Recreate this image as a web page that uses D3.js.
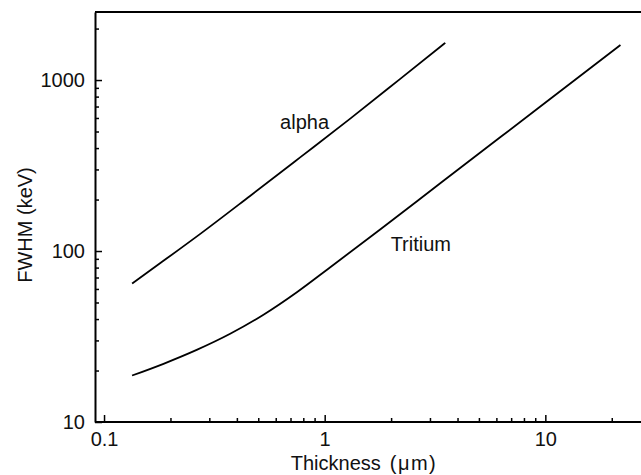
<!DOCTYPE html>
<html>
<head>
<meta charset="utf-8">
<script src="https://cdn.jsdelivr.net/npm/d3@7"></script>
<style>
    body { margin: 0; background: #fff; }
    svg { display: block; }
    text { font-family: "Liberation Sans", Arial, sans-serif; fill: #111; }
</style>
</head>
<body>
<div id="chart"></div>
<script>
// values (thickness in um, FWHM in keV)
var alphaThickness = [0.134, 0.18, 0.273, 0.459, 0.774, 1.31, 2.2, 3.52];
var alphaFwhm = [64.5, 85, 126, 210, 353, 597, 1016, 1650];

var tritiumThickness = [0.134, 0.186, 0.263, 0.373, 0.528, 0.748, 1.06, 1.79, 3.34, 9.49, 21.9];
var tritiumFwhm = [18.7, 21.9, 26.4, 32.8, 42.4, 57.4, 80.4, 134, 249, 700, 1603];

var xMajorTicks = [0.1, 1, 10];
var xTickLabels = ["0.1", "1", "10"];
var yMajorTicks = [10, 100, 1000];
var yTickLabels = ["10", "100", "1000"];

var seriesNames = ["alpha", "Tritium"];
// where the names sit, in data units
var labelThickness = [0.628, 1.99];
var labelFwhm = [516, 100.5];

var totalWidth = 641;
var totalHeight = 475;
var margin = { top: 12, right: -3, bottom: 53, left: 95 };
var width = totalWidth - margin.left - margin.right;
var height = totalHeight - margin.top - margin.bottom;

var svg = d3.select('#chart').append('svg')
    .attr('width', totalWidth)
    .attr('height', totalHeight);

var g = svg.append('g')
    .attr('transform', 'translate(' + margin.left + ',' + margin.top + ')');

var xScale = d3.scaleLog().domain([0.091, 28]).range([0, width]);
var yScale = d3.scaleLog().domain([10, 2500]).range([height, 0]);

// minor ticks 2..9 of every decade that fits
function minorTicks(scale) {
    var dom = scale.domain();
    var out = [];
    for (var p = Math.floor(Math.log10(dom[0])); p <= Math.ceil(Math.log10(dom[1])); p++) {
        for (var m = 2; m <= 9; m++) {
            var v = m * Math.pow(10, p);
            if (v >= dom[0] && v <= dom[1]) out.push(v);
        }
    }
    return out;
}

// top frame line
g.append('line')
    .attr('x1', 0).attr('x2', width + 10)
    .attr('y1', 0).attr('y2', 0)
    .attr('stroke', '#000').attr('stroke-width', 2);

// x axis, ticks pointing inward
var xMinor = g.append('g')
    .attr('transform', 'translate(0,' + height + ')')
    .call(d3.axisBottom(xScale).tickValues(minorTicks(xScale)).tickFormat('').tickSizeInner(-4).tickSizeOuter(0));
xMinor.select('.domain').remove();

var xAxisGroup = g.append('g')
    .attr('transform', 'translate(0,' + height + ')')
    .call(d3.axisBottom(xScale).tickValues(xMajorTicks)
        .tickFormat(function(d, i) { return xTickLabels[i]; })
        .tickSizeInner(-7).tickSizeOuter(0).tickPadding(10));
xAxisGroup.select('.domain').attr('stroke-width', 2).attr('d', 'M0,0H' + (width + 10));
xAxisGroup.selectAll('text').attr('font-size', 20).attr('fill', '#111');

// y axis
var yMinor = g.append('g')
    .call(d3.axisLeft(yScale).tickValues(minorTicks(yScale)).tickFormat('').tickSizeInner(-4).tickSizeOuter(0));
yMinor.select('.domain').remove();

var yAxisGroup = g.append('g')
    .call(d3.axisLeft(yScale).tickValues(yMajorTicks)
        .tickFormat(function(d, i) { return yTickLabels[i]; })
        .tickSizeInner(-7).tickSizeOuter(0).tickPadding(10));
yAxisGroup.select('.domain').attr('stroke-width', 2);
yAxisGroup.selectAll('text').attr('font-size', 20).attr('fill', '#111');

g.selectAll('.tick line').attr('stroke', '#000').attr('stroke-width', 1.5);
g.selectAll('text').attr('font-family', '"Liberation Sans", Arial, sans-serif');

var line = d3.line()
    .x(function(d) { return xScale(d[0]); })
    .y(function(d) { return yScale(d[1]); })
    .curve(d3.curveMonotoneX);

var series = [
    d3.zip(alphaThickness, alphaFwhm),
    d3.zip(tritiumThickness, tritiumFwhm)
];

g.selectAll('.curve')
    .data(series)
    .enter()
    .append('path')
    .attr('class', 'curve')
    .attr('d', line)
    .attr('fill', 'none')
    .attr('stroke', '#000')
    .attr('stroke-width', 1.8);

g.selectAll('.series-label')
    .data(seriesNames)
    .enter()
    .append('text')
    .attr('class', 'series-label')
    .attr('x', function(d, i) { return xScale(labelThickness[i]); })
    .attr('y', function(d, i) { return yScale(labelFwhm[i]); })
    .attr('font-size', 20)
    .text(function(d) { return d; });

// axis titles
var xTitle = g.append('text')
    .attr('x', width / 2 - 5.5)
    .attr('y', height + 48)
    .attr('text-anchor', 'middle')
    .attr('font-size', 20)
    .text('Thickness');
xTitle.append('tspan')
    .attr('dx', 9)
    .attr('letter-spacing', 1.5)
    .text('(\u03bcm)');

g.append('text')
    .attr('transform', 'translate(' + (-63) + ',' + (height / 2 + 8) + ') rotate(-90)')
    .attr('text-anchor', 'middle')
    .attr('font-size', 20)
    .text('FWHM (keV)');
</script>
</body>
</html>
